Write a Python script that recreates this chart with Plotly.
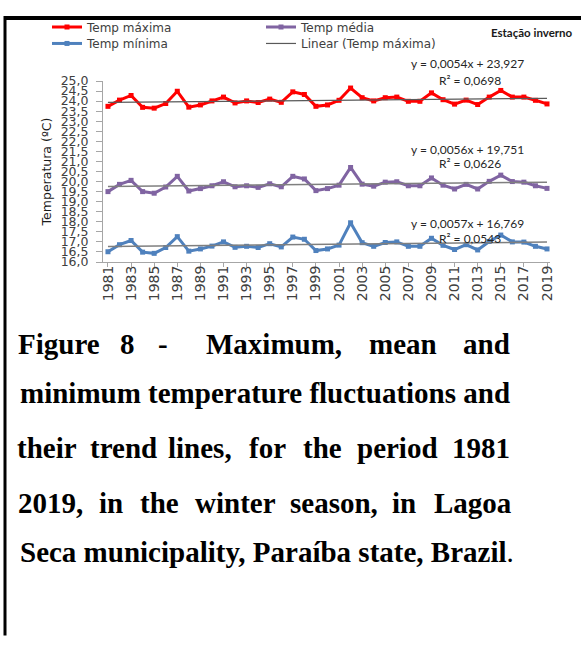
import plotly.graph_objects as go

years = list(range(1981, 2020))
tmax = [23.74, 24.05, 24.28, 23.69, 23.65, 23.88, 24.49, 23.70, 23.81, 24.01,
        24.20, 23.91, 24.01, 23.93, 24.10, 23.94, 24.46, 24.33, 23.74, 23.81,
        24.04, 24.65, 24.17, 24.01, 24.17, 24.20, 23.99, 23.99, 24.41, 24.07,
        23.85, 24.05, 23.83, 24.20, 24.53, 24.20, 24.20, 24.04, 23.86]
tmed = [19.50, 19.86, 20.06, 19.50, 19.42, 19.73, 20.26, 19.53, 19.65, 19.79,
        19.99, 19.74, 19.79, 19.71, 19.89, 19.74, 20.26, 20.13, 19.55, 19.65,
        19.82, 20.70, 19.87, 19.77, 19.97, 19.99, 19.79, 19.79, 20.18, 19.82,
        19.63, 19.86, 19.63, 20.01, 20.32, 20.00, 19.97, 19.79, 19.66]
tmin = [16.51, 16.86, 17.07, 16.49, 16.43, 16.72, 17.26, 16.54, 16.65, 16.79,
        17.00, 16.73, 16.78, 16.72, 16.91, 16.75, 17.24, 17.13, 16.57, 16.65,
        16.84, 17.95, 16.96, 16.78, 16.97, 17.00, 16.78, 16.78, 17.18, 16.83,
        16.62, 16.86, 16.60, 17.02, 17.34, 17.00, 16.99, 16.78, 16.65]

# Linear trend coefficients (slope, intercept) as printed on the chart
trend_max = (0.0054, 23.927)
trend_med = (0.0056, 19.751)
trend_min = (0.0057, 16.769)
eq_max = ["y = 0,0054x + 23,927", "R² = 0,0698"]
eq_med = ["y = 0,0056x + 19,751", "R² = 0,0626"]
eq_min = ["y = 0,0057x + 16,769", "R² = 0,0543"]

ytick_vals = [16 + 0.5 * i for i in range(19)]
xtick_vals = years[::2]

W, H = 581, 647
L, R, T, B = 103, 31, 74, 385
PW = W - L - R
PH = H - T - B


def fx(p):
    return (p - L) / PW


def fy(p):
    return (H - B - p) / PH


def trend(coef):
    a, b = coef
    return [a * (i + 1) + b for i in range(len(years))]


RED = "#FF0000"
PURPLE = "#8064A2"
BLUE = "#4F81BD"
GRAY = "#7F7F7F"
TXT = "#404040"
SANS = "DejaVu Sans, sans-serif"

fig = go.Figure()
fig.add_trace(go.Scatter(x=years, y=tmax, name="Temp máxima", mode="lines+markers", legend="legend",
                         line=dict(color=RED, width=3), marker=dict(symbol="square", size=5, color=RED)))
fig.add_trace(go.Scatter(x=years, y=tmed, name="Temp média", mode="lines+markers", legend="legend",
                         line=dict(color=PURPLE, width=3), marker=dict(symbol="square", size=5, color=PURPLE)))
fig.add_trace(go.Scatter(x=years, y=tmin, name="Temp mínima", mode="lines+markers", legend="legend2",
                         line=dict(color=BLUE, width=3), marker=dict(symbol="square", size=5, color=BLUE)))
fig.add_trace(go.Scatter(x=years, y=trend(trend_max), name="Linear (Temp máxima)", mode="lines",
                         legend="legend2", line=dict(color="#595959", width=1.2)))
fig.add_trace(go.Scatter(x=years, y=trend(trend_med), name="Linear (Temp média)", mode="lines",
                         line=dict(color=GRAY, width=1.5), showlegend=False))
fig.add_trace(go.Scatter(x=years, y=trend(trend_min), name="Linear (Temp mínima)", mode="lines",
                         line=dict(color=GRAY, width=1.5), showlegend=False))

ann = []
EQ_FONT = dict(family="Lato, sans-serif", size=12, color="#262626")
for lines, y1, y2 in [(eq_max, 56, 73), (eq_med, 145, 160), (eq_min, 222, 238)]:
    ann.append(dict(text=lines[0], x=fx(467), y=fy(y1), xref="paper", yref="paper",
                    showarrow=False, xanchor="center", yanchor="middle", font=EQ_FONT))
    ann.append(dict(text=lines[1], x=fx(470), y=fy(y2), xref="paper", yref="paper",
                    showarrow=False, xanchor="center", yanchor="middle", font=EQ_FONT))

ann.append(dict(text="<b>Estação inverno</b>", x=fx(532), y=fy(24), xref="paper", yref="paper",
                showarrow=False, xanchor="center", yanchor="middle",
                font=dict(family="Lato, sans-serif", size=11.5, color="#1a1a1a")))

# caption (justified lines emulated by word placement)
CAP_FONT = dict(family="Liberation Serif, Times New Roman, serif", size=29, color="black")
just_lines = [
    (347, [("Figure", 59), ("8", 127), ("-", 163), ("Maximum,", 274), ("mean", 403), ("and", 486)]),
    (455, [("their", 47), ("trend", 123), ("lines,", 200), ("for", 267), ("the", 322),
           ("period", 397), ("1981", 481)]),
    (512, [("2019,", 50), ("in", 111), ("the", 159), ("winter", 235), ("season,", 334),
           ("in", 404), ("Lagoa", 473)]),
]
for yp, words in just_lines:
    for w, xc in words:
        ann.append(dict(text="<b>" + w + "</b>", x=fx(xc), y=fy(yp), xref="paper", yref="paper",
                        showarrow=False, xanchor="center", yanchor="middle", font=CAP_FONT))
for yp, txt in [(398, "<b>minimum temperature fluctuations and</b>"),
                (563, "<b>Seca municipality, Paraíba state, Brazil</b>.")]:
    ann.append(dict(text=txt, x=fx(18), y=fy(yp), xref="paper", yref="paper",
                    showarrow=False, xanchor="left", yanchor="middle", font=CAP_FONT))

# top border of the scanned figure frame, drawn as a filled annotation box
ann.append(dict(text=" ", x=fx(3.5), y=fy(6.5), xref="paper", yref="paper", xanchor="left",
                yanchor="top", showarrow=False, width=578, height=3.5, bgcolor="black",
                borderpad=0, borderwidth=0, font=dict(size=2)))

# left border of the frame
shapes = [
    dict(type="rect", xref="paper", yref="paper", x0=fx(3.5), x1=fx(6.5), y0=fy(650), y1=fy(6.5),
         fillcolor="black", line=dict(width=0), layer="above"),
]

LEG = dict(orientation="h", x=fx(47), xanchor="left", yanchor="middle",
           xref="paper", yref="paper", entrywidth=169, traceorder="normal",
           font=dict(family=SANS, size=12, color=TXT),
           bgcolor="rgba(0,0,0,0)", itemwidth=30)

fig.update_layout(
    width=W, height=H,
    margin=dict(l=L, r=R, t=T, b=B),
    paper_bgcolor="white", plot_bgcolor="white",
    separators=", ",
    showlegend=True,
    legend=dict(LEG, y=fy(18)),
    legend2=dict(LEG, y=fy(35)),
    annotations=ann,
    shapes=shapes,
    xaxis=dict(range=[1980.57, 2019.26], tickvals=xtick_vals, ticktext=[str(y) for y in xtick_vals],
               tickangle=-90, ticks="outside", ticklen=4, tickcolor="#A6A6A6", ticklabelstandoff=-7,
               showline=True, linecolor="#A6A6A6", linewidth=1, showgrid=False, zeroline=False,
               tickfont=dict(family=SANS, size=14, color=TXT)),
    yaxis=dict(range=[16, 25], tickvals=ytick_vals, tickformat=".1f",
               ticks="outside", ticklen=6, tickcolor="#A6A6A6", ticklabelstandoff=5,
               showline=True, linecolor="#A6A6A6", linewidth=1, showgrid=False, zeroline=False,
               tickfont=dict(family=SANS, size=12.5, color=TXT),
               title=dict(text="Temperatura (ºC)", standoff=6,
                          font=dict(family=SANS, size=12.5, color="#1a1a1a"))),
)

fig.write_html("out.html", config={"displayModeBar": False},
               post_script="document.body.style.margin='0px';")
